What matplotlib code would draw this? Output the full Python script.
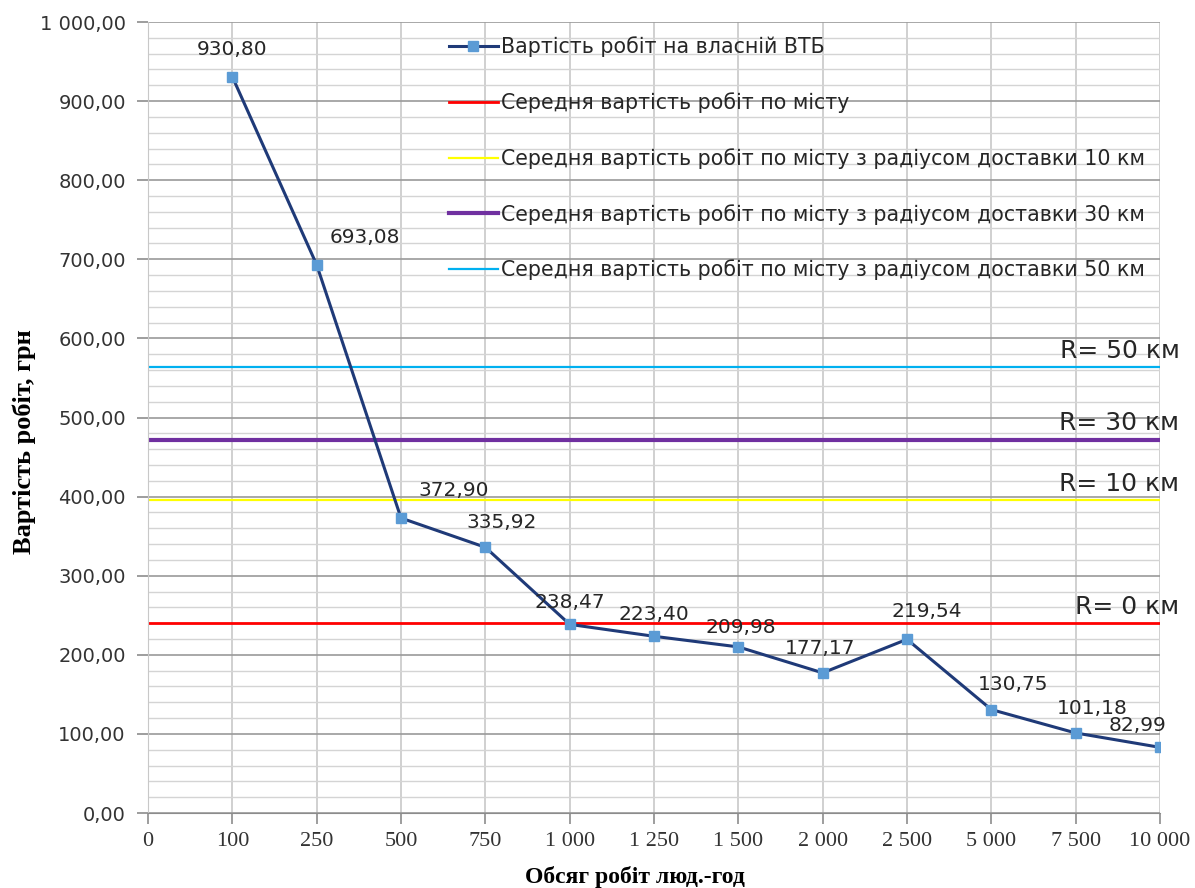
"""Вартість робіт на власній ВТБ vs середня вартість по місту."""

import matplotlib
matplotlib.use("Agg")
import matplotlib.pyplot as plt
from matplotlib.ticker import MultipleLocator, FuncFormatter

# --- data -------------------------------------------------------------
volumes = ["0", "100", "250", "500", "750", "1 000", "1 250", "1 500",
           "2 000", "2 500", "5 000", "7 500", "10 000"]
cost_own = [930.80, 693.08, 372.90, 335.92, 238.47, 223.40, 209.98,
            177.17, 219.54, 130.75, 101.18, 82.99]   # from "100" onwards
cost_labels = ["930,80", "693,08", "372,90", "335,92", "238,47", "223,40",
               "209,98", "177,17", "219,54", "130,75", "101,18", "82,99"]
city_avg = [240.0, 396.0, 472.0, 564.0]
city_names = [
    "Середня вартість робіт по місту",
    "Середня вартість робіт по місту з радіусом доставки 10 км",
    "Середня вартість робіт по місту з радіусом доставки 30 км",
    "Середня вартість робіт по місту з радіусом доставки 50 км",
]
radius_tags = ["R= 0 км", "R= 10 км", "R= 30 км", "R= 50 км"]
own_name = "Вартість робіт на власній ВТБ"

# --- style ------------------------------------------------------------
sans = ["DejaVu Sans"]
serif = ["Liberation Serif", "DejaVu Serif"]
line_colors = ["#FF0000", "#FFFF00", "#7030A0", "#00B0F0"]
line_widths = [2.0, 1.6, 3.0, 1.6]
label_offsets = [(0, 13), (35, 13), (38, 13), (12, 11), (0, 9), (0, 9),
                 (2, 7), (-2, 11), (14, 13), (16, 11), (12, 11), (-16, 9)]

fig = plt.figure(figsize=(11.95, 8.88), dpi=100)
ax = fig.add_axes([148 / 1195, 75 / 888, 1012 / 1195, 791 / 888])

xs = list(range(len(volumes)))

# grid
ax.yaxis.set_major_locator(MultipleLocator(100))
ax.yaxis.set_minor_locator(MultipleLocator(20))
ax.grid(which="major", axis="y", color="#9A9A9A", lw=1.2, zorder=0)
ax.grid(which="minor", axis="y", color="#D4D4D4", lw=1.0, zorder=0)
ax.set_xticks(xs)
ax.grid(which="major", axis="x", color="#C8C8C8", lw=1.2, zorder=0)

# horizontal city averages
for val, name, col, lw in zip(city_avg, city_names, line_colors, line_widths):
    ax.plot([xs[0], xs[-1]], [val, val], color=col, lw=lw, label=name,
            zorder=2)
for val, tag in zip(city_avg, radius_tags):
    ax.annotate(tag, xy=(xs[-1], val), xytext=(14, 3),
                textcoords="offset points", ha="right", va="bottom",
                fontsize=18, family=sans, color="#262626",
                annotation_clip=False)

# own base series
ln, = ax.plot(xs[1:], cost_own, color="#1F3A78", lw=2.2, marker="s",
              markersize=7, markerfacecolor="#5B9BD5",
              markeredgecolor="#5B9BD5", label=own_name, zorder=4)
for x, y, txt, off in zip(xs[1:], cost_own, cost_labels, label_offsets):
    ax.annotate(txt, xy=(x, y), xytext=off, textcoords="offset points",
                ha="center", va="bottom", fontsize=14.5, family=sans,
                color="#262626", zorder=5)

ax.set_xlim(0, len(volumes) - 1)
ax.set_ylim(0, 1000)
ax.set_xticklabels(volumes, family=serif, fontsize=16, color="#333333")
ax.yaxis.set_major_formatter(FuncFormatter(
    lambda v, _: f"{v:,.2f}".replace(",", " ").replace(".", ",")))
for t in ax.get_yticklabels():
    t.set_family(sans)
ax.tick_params(axis="y", which="major", labelsize=14, labelcolor="#333333",
               length=8, color="#8C8C8C", width=1.2, pad=8)
ax.tick_params(axis="y", which="minor", length=0)
ax.tick_params(axis="x", length=8, color="#8C8C8C", width=1.2, pad=6)
for s in ["top", "right"]:
    ax.spines[s].set_visible(False)
ax.spines["left"].set_color("#C8C8C8")
ax.spines["bottom"].set_color("#8C8C8C")

ax.set_ylabel("Вартість робіт, грн", family=serif, fontsize=19,
              fontweight="bold")
ax.yaxis.set_label_coords(-(148 - 24) / 1012, (813 - 442) / 791)
ax.yaxis.label.set_va("center")
ax.set_xlabel("Обсяг робіт люд.-год", family=serif, fontsize=17,
              fontweight="bold")
ax.xaxis.set_label_coords((635 - 148) / 1012, -(877 - 813) / 791)
ax.xaxis.label.set_va("center")

handles, labels = ax.get_legend_handles_labels()
order = [len(handles) - 1] + list(range(len(handles) - 1))
leg = ax.legend([handles[i] for i in order], [labels[i] for i in order],
                loc="upper left", bbox_to_anchor=(430 / 1195, 1 - 18 / 888),
                bbox_transform=fig.transFigure, frameon=False,
                prop={"family": sans, "size": 14.8}, handlelength=2.4,
                labelspacing=1.7, handletextpad=0.15)
for t in leg.get_texts():
    t.set_color("#262626")

fig.savefig("out.png", dpi=100)
